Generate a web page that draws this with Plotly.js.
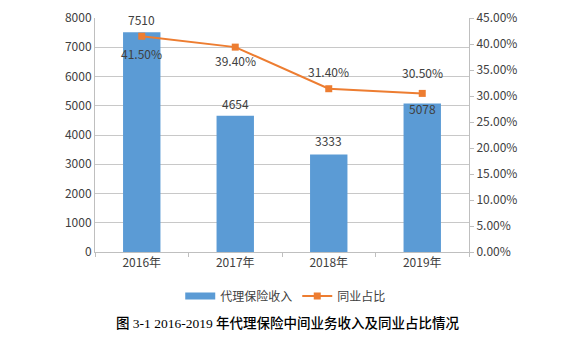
<!DOCTYPE html>
<html>
<head>
<meta charset="utf-8">
<script src="https://cdn.plot.ly/plotly-3.0.1.min.js"></script>
<style>html,body{margin:0;padding:0;background:#fff;}#chart{width:588px;height:339px;}</style>
</head>
<body>
<div id="chart"></div>
<script>
const categories = ['2016年', '2017年', '2018年', '2019年'];
const agencyIncome = [7510, 4654, 3333, 5078];
const industryShare = [41.5, 39.4, 31.4, 30.5];
const barName = '代理保险收入';
const lineName = '同业占比';
const captionText = '图 3-1 2016-2019 年代理保险中间业务收入及同业占比情况';

// label offsets (styling, pixels)
const barLabelShift = [13, 12, 14, -5];
const lineLabelShift = [-17, -13, 17, 21];

const font = "'Noto Sans CJK SC', 'DejaVu Sans', sans-serif";
const serifFont = "'Liberation Serif', 'Noto Sans CJK SC', serif";
const textColor = '#404040';

const traces = [
  {
    type: 'bar', x: categories, y: agencyIncome, name: barName,
    marker: {color: '#5b9bd5'}, width: 0.4, yaxis: 'y', showlegend: false
  },
  {
    // legend-only entry giving the wide rectangular swatch of the bar series
    type: 'scatter', mode: 'lines', x: [null], y: [null], name: barName,
    line: {color: '#5b9bd5', width: 7}, yaxis: 'y', hoverinfo: 'skip'
  },
  {
    type: 'scatter', mode: 'lines+markers', x: categories, y: industryShare, name: lineName,
    line: {color: '#ed7d31', width: 2}, marker: {symbol: 'square', size: 7, color: '#ed7d31'},
    yaxis: 'y2'
  }
];

const annotations = [];
categories.forEach((c, i) => {
  annotations.push({x: c, y: agencyIncome[i], xref: 'x', yref: 'y', text: String(agencyIncome[i]),
    showarrow: false, yanchor: 'middle', yshift: barLabelShift[i], font: {family: font, size: 12, color: textColor}});
  annotations.push({x: c, y: industryShare[i], xref: 'x', yref: 'y2', text: industryShare[i].toFixed(2) + '%',
    showarrow: false, yanchor: 'middle', yshift: lineLabelShift[i], font: {family: font, size: 12, color: textColor}});
});
annotations.push({x: 0.516, y: -0.303, xref: 'paper', yref: 'paper', text: captionText,
  showarrow: false, xanchor: 'center', yanchor: 'middle', font: {family: serifFont, size: 13.5, color: '#000', weight: 500}});

const layout = {
  width: 588, height: 339,
  margin: {l: 95, r: 119, t: 18, b: 87},
  paper_bgcolor: '#fff', plot_bgcolor: '#fff',
  font: {family: font, size: 12, color: textColor},
  showlegend: true,
  legend: {orientation: 'h', x: 0.51, y: -0.188, xanchor: 'center', yanchor: 'middle',
    font: {family: font, size: 12, color: textColor}, itemwidth: 30, traceorder: 'normal'},
  xaxis: {type: 'category', range: [-0.5, 3.5], showline: true, linecolor: '#bfbfbf', linewidth: 1,
    ticks: 'outside', tickson: 'boundaries', ticklen: 4, tickcolor: '#bfbfbf', showgrid: false,
    tickfont: {family: font, size: 12, color: textColor}},
  yaxis: {range: [0, 8000], dtick: 1000, showgrid: true, gridcolor: '#c8c8c8', gridwidth: 1,
    showline: true, linecolor: '#bfbfbf', zeroline: false, ticks: '', ticklen: 0,
    tickfont: {family: font, size: 12, color: textColor}},
  yaxis2: {range: [0, 45], dtick: 5, overlaying: 'y', side: 'right', showgrid: false, zeroline: false,
    showline: true, linecolor: '#bfbfbf', ticks: 'outside', ticklen: 4, tickcolor: '#bfbfbf',
    tickformat: '.2f', ticksuffix: '%', tickfont: {family: font, size: 12, color: textColor}},
  annotations: annotations
};

Plotly.newPlot('chart', traces, layout, {displayModeBar: false, staticPlot: true});
</script>
</body>
</html>
